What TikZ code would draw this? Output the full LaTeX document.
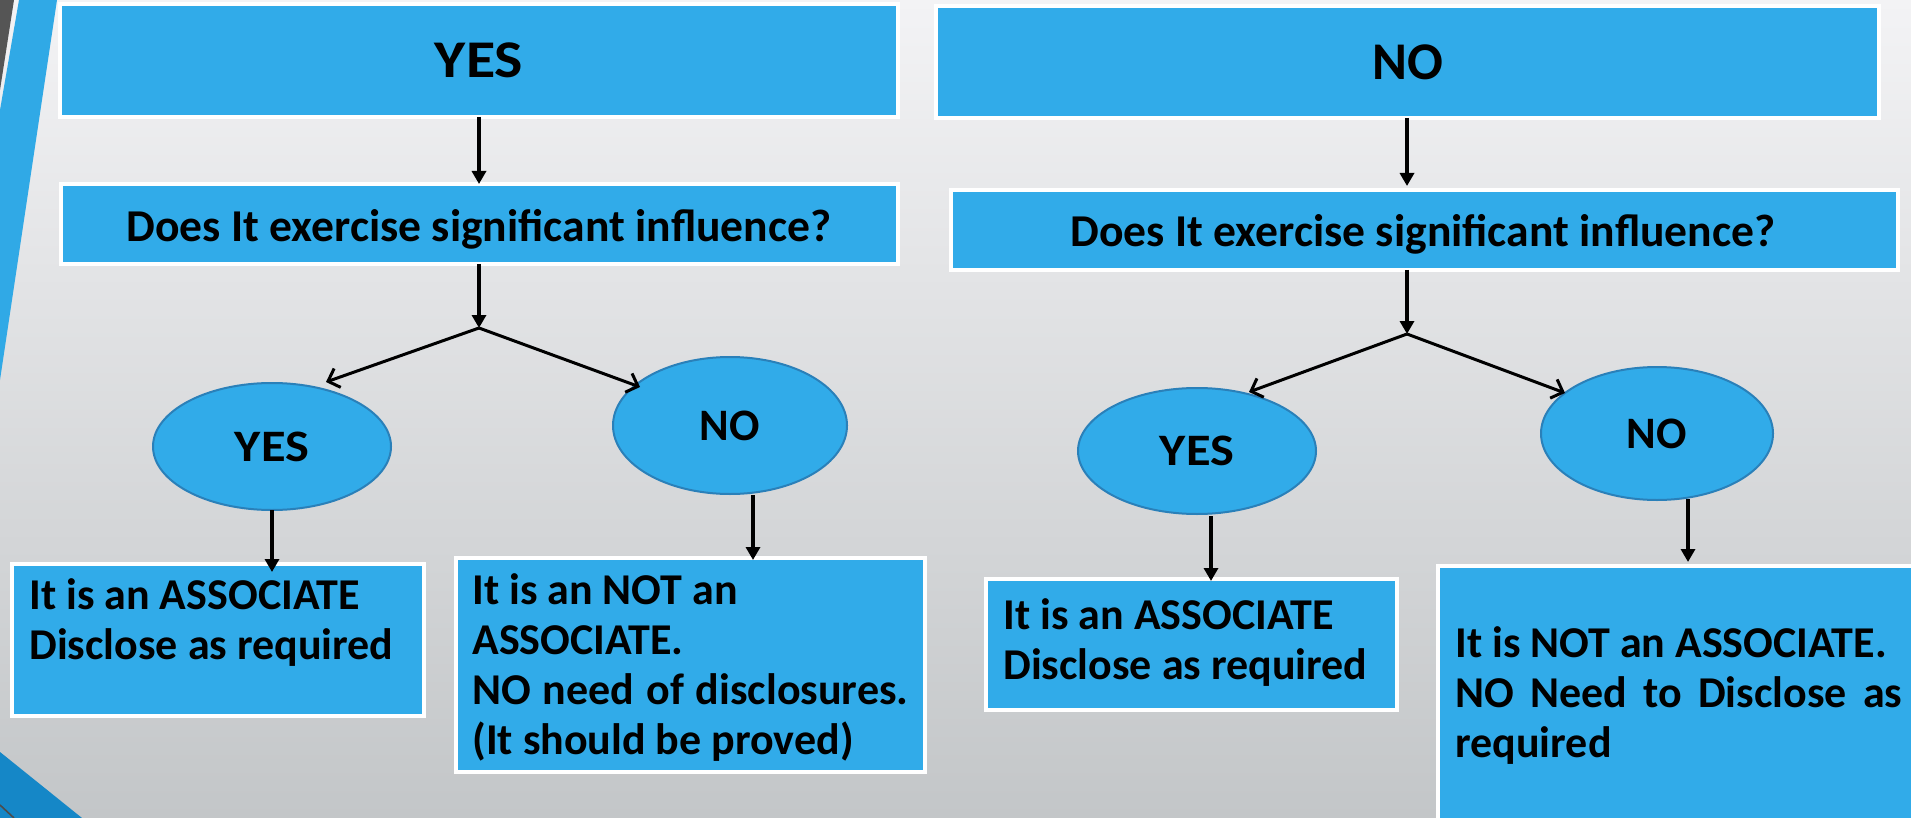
\documentclass[tikz,border=0pt]{standalone}
\usepackage{fontspec}
\setmainfont{Carlito}
\usetikzlibrary{arrows.meta,shapes.geometric}
\definecolor{boxblue}{HTML}{31ABE9}
\definecolor{edgeblue}{HTML}{2A80B9}
\definecolor{bandblue}{HTML}{30A9E6}
\definecolor{cornerblue}{HTML}{1587C7}
\definecolor{bgtop}{HTML}{F3F3F5}
\definecolor{bgbot}{HTML}{C3C6C8}
\definecolor{darkstrip}{HTML}{555555}
\begin{document}
\begin{tikzpicture}[x=0.5pt,y=-0.5pt,
  box/.style={draw=white,line width=2pt,fill=boxblue,inner sep=0pt,outer sep=0pt},
  oval/.style={ellipse,draw=edgeblue,line width=1pt,fill=boxblue,inner sep=0pt,outer sep=0pt,
    font=\bfseries\fontsize{22.5pt}{26pt}\selectfont},
  title/.style={font=\bfseries\fontsize{26.5pt}{30pt}\selectfont},
  question/.style={inner sep=0pt,anchor=base,font=\bfseries\fontsize{22.8pt}{26pt}\selectfont},
  body/.style={inner sep=0pt,anchor=base west,align=left,font=\bfseries\fontsize{22pt}{25pt}\selectfont},
  varrow/.style={line width=2pt,-{Triangle[width=7pt,length=6.5pt]}},
  darrow/.style={line width=1.5pt,-{Straight Barb[length=5pt,width=10pt,line width=1.5pt]}}
]
\useasboundingbox (0,0) rectangle (1911,818);
% background
\shade[top color=bgtop,bottom color=bgbot] (0,0) rectangle (1911,818);
\fill[darkstrip] (0,0) -- (14,0) -- (0,90) -- cycle;
\fill[bandblue] (19,0) -- (57,0) -- (0,380) -- (0,110) -- cycle;
\fill[cornerblue] (0,752) -- (82,818) -- (0,818) -- cycle;
\draw[line width=0.8pt,black!70] (0,805) -- (14,818);

% top boxes
\node[box,title,minimum width=419pt,minimum height=56.5pt] (T1) at (479,60.5) {\scalebox{1.13}[1]{YES}};
\node[box,title,minimum width=471.5pt,minimum height=56pt] (T2) at (1407.5,62) {NO};
% question boxes
\node[box,minimum width=418.5pt,minimum height=40pt] (Q1) at (479.5,224) {};
\node[box,minimum width=473.5pt,minimum height=40pt] (Q2) at (1424.5,230) {};
\node[question] (Q1t) at (479,242) {Does It exercise significant influence?};
\node[question] (Q2t) at (1423,247) {Does It exercise significant influence?};
% ellipses
\node[oval,minimum width=119pt,minimum height=63.5pt] (E1) at (272,446.5) {\scalebox{1.12}[1]{YES}};
\node[oval,minimum width=117pt,minimum height=68.5pt] (E2) at (730,425.5) {NO};
\node[oval,minimum width=119pt,minimum height=63pt] (E3) at (1197,451) {\scalebox{1.12}[1]{YES}};
\node[oval,minimum width=116pt,minimum height=66.5pt] (E4) at (1657,433.5) {NO};
% bottom boxes
\node[box,minimum width=206pt,minimum height=76pt] (B1) at (218,640) {};
\node[box,minimum width=234.5pt,minimum height=107pt] (B2) at (690.5,665) {};
\node[box,minimum width=205.5pt,minimum height=65.5pt] (B3) at (1191.5,644.5) {};
\node[box,minimum width=243.5pt,minimum height=132pt] (B4) at (1681.5,698) {};
\node[body] (B1t) at (29,659) {It is an ASSOCIATE\\Disclose as required};
\node[body] (B2t) at (472,754) {It is an NOT an\\ASSOCIATE.\\\makebox[218pt][s]{NO need of disclosures.}\\(It should be proved)};
\node[body] (B3t) at (1003,679) {It is an ASSOCIATE\\Disclose as required};
\node[body] (B4t) at (1455,757) {It is NOT an ASSOCIATE.\\\makebox[223.5pt][s]{NO Need to Disclose as}\\required};

% fork points and arrow ends
\coordinate (A1) at (479,328);
\coordinate (A2) at (1407,334);
\coordinate (E1in) at (326,382);
\coordinate (E2in) at (640,387);
\coordinate (E3in) at (1249,392);
\coordinate (E4in) at (1565,393);
\coordinate (S2) at (753,495);
\coordinate (S3) at (1211,516);
\coordinate (S4) at (1688,499);

% connectors left
\draw[varrow] (T1.south) -- (T1.south |- Q1.north);
\draw[varrow] (A1 |- Q1.south) -- (A1);
\draw[darrow] (A1) -- (E1in);
\draw[darrow] (A1) -- (E2in);
\draw[varrow,shorten >=-4pt] (E1.south) -- (E1.south |- B1.north);
\draw[varrow,shorten >=-1pt] (S2) -- (S2 |- B2.north);
% connectors right
\draw[varrow,shorten >=2pt] (A2 |- T2.south) -- (A2 |- Q2.north);
\draw[varrow] (A2 |- Q2.south) -- (A2);
\draw[darrow] (A2) -- (E3in);
\draw[darrow] (A2) -- (E4in);
\draw[varrow,shorten >=-1pt] (S3) -- (S3 |- B3.north);
\draw[varrow,shorten >=2pt] (S4) -- (S4 |- B4.north);
\end{tikzpicture}
\end{document}
